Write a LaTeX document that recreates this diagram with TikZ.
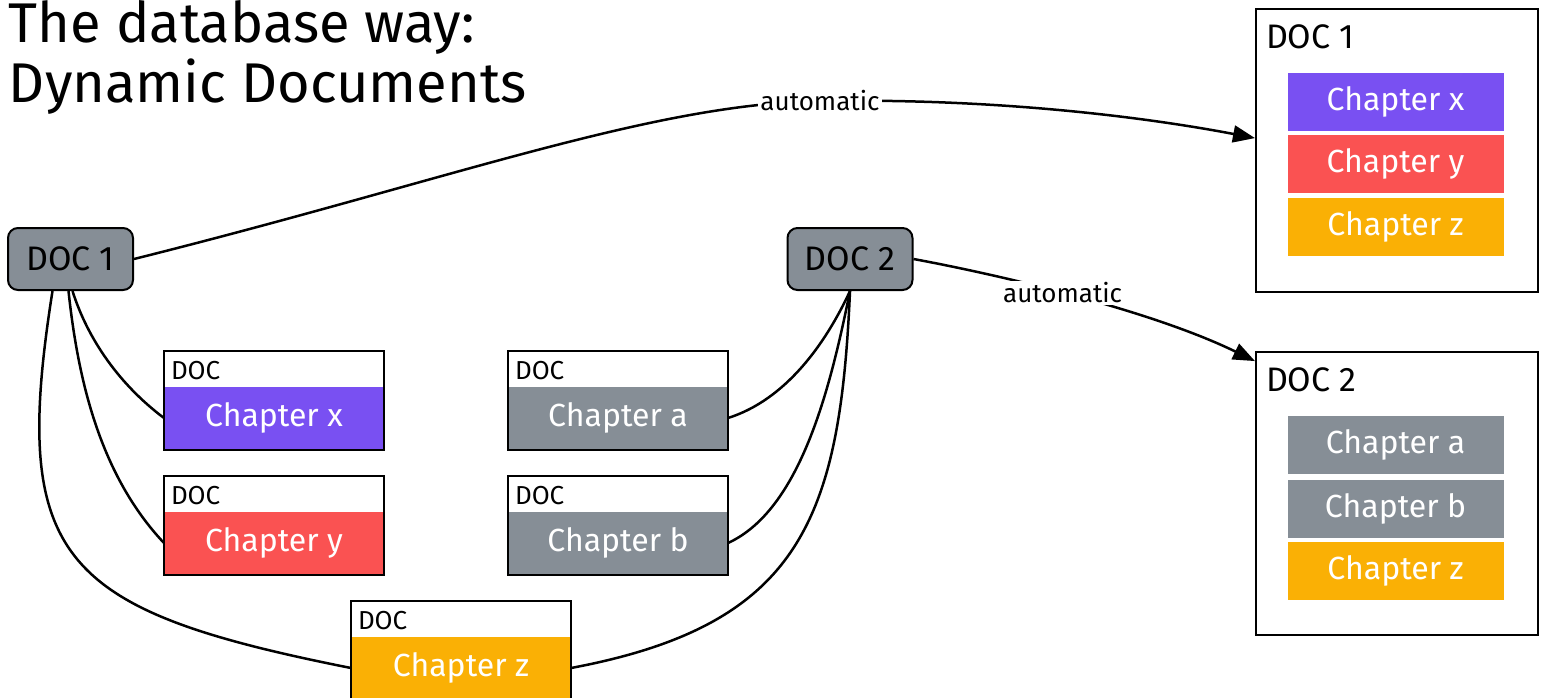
\documentclass[tikz,border=0pt]{standalone}
\usepackage{fontspec}
\setmainfont{Fira Sans}
\usepackage{tikz}
\usetikzlibrary{positioning,arrows.meta}
\definecolor{chpurple}{HTML}{7950F2}
\definecolor{chred}{HTML}{FA5252}
\definecolor{chorange}{HTML}{FAB005}
\definecolor{chgray}{HTML}{868E96}
\begin{document}
\begin{tikzpicture}[x=1pt,y=-1pt,line width=2pt,
  doc/.style={shape=rectangle,rounded corners=10pt,draw,fill=chgray,minimum width=125pt,minimum height=62pt,font=\fontsize{34}{40}\selectfont},
  hdr/.style={shape=rectangle,anchor=north west,minimum width=218pt,minimum height=33pt,text width=206pt,align=left,inner xsep=6pt,inner ysep=4pt,text height=22pt,text depth=0pt,font=\fontsize{26}{30}\selectfont},
  band/.style={shape=rectangle,minimum width=218pt,minimum height=62pt,text=white,font=\fontsize{32}{38}\selectfont},
  bigdoc/.style={shape=rectangle,draw,anchor=north west,minimum width=282pt,minimum height=283pt},
  bigtitle/.style={anchor=west,inner sep=0pt,font=\fontsize{34}{40}\selectfont},
  bar/.style={shape=rectangle,draw=white,line width=1pt,minimum width=217pt,minimum height=59pt,inner sep=0pt,text=white,font=\fontsize{32}{38}\selectfont},
  lbl/.style={fill=white,inner sep=2pt,font=\fontsize{26}{30}\selectfont},
  link/.style={line width=2.5pt},
  flow/.style={line width=2.5pt,-{Triangle[length=22pt,width=17pt]}}]
\useasboundingbox (0,0) rectangle (1544,697);
% title
\path (8,42) node (title1) [anchor=base west,inner sep=0pt,font=\fontsize{56}{68}\selectfont] {The database way:};
\path (8,102) node (title2) [anchor=base west,inner sep=0pt,font=\fontsize{56}{68}\selectfont] {Dynamic Documents};
% documents
\path (70.5,259) node (doc1) [doc] {DOC 1};
\path (850,259) node (doc2) [doc] {DOC 2};
% chapters
\path (164,351) node (hdx) [hdr] {DOC};
\path node (chx) [band,fill=chpurple,below=0pt of hdx] {Chapter x};
\path (164,476) node (hdy) [hdr] {DOC};
\path node (chy) [band,fill=chred,below=0pt of hdy] {Chapter y};
\path (508,351) node (hda) [hdr] {DOC};
\path node (cha) [band,fill=chgray,below=0pt of hda] {Chapter a};
\path (508,476) node (hdb) [hdr] {DOC};
\path node (chb) [band,fill=chgray,below=0pt of hdb] {Chapter b};
\path (351,601) node (hdz) [hdr] {DOC};
\path node (chz) [band,fill=chorange,below=0pt of hdz] {Chapter z};
\foreach \c in {x,y,a,b,z}
  \draw (hd\c.north west) rectangle (ch\c.south east);
% results
\path (1255,8) node (big1) [bigdoc] {};
\path (1265,37) node (bt1) [bigtitle] {DOC 1};
\path (1395.5,101.5) node (r1x) [bar,fill=chpurple] {Chapter x};
\path (1395.5,164) node (r1y) [bar,fill=chred] {Chapter y};
\path (1395.5,227) node (r1z) [bar,fill=chorange] {Chapter z};
\path (1255,351) node (big2) [bigdoc] {};
\path (1265,380) node (bt2) [bigtitle] {DOC 2};
\path (1395.5,445) node (r2a) [bar,fill=chgray] {Chapter a};
\path (1395.5,509) node (r2b) [bar,fill=chgray] {Chapter b};
\path (1395.5,571) node (r2z) [bar,fill=chorange] {Chapter z};

\draw [link] ([xshift=2pt]doc1.south) .. controls (88,340) and (120,385) .. (chx.west);
\draw [link] ([xshift=-2pt]doc1.south) .. controls (78,380) and (100,475) .. (chy.west);
\draw [link] ([xshift=-18pt]doc1.south) .. controls (10,560) and (60,610) .. (chz.west);
\draw [link] (doc2.south) .. controls (825,345) and (785,400) .. (cha.east);
\draw [link] (doc2.south) .. controls (830,390) and (800,510) .. (chb.east);
\draw [link] (doc2.south) .. controls (840,520) and (800,625) .. (chz.east);

\draw [flow] (doc1.east) .. controls (450,180) and (650,104) .. (820,101)
  node (auto1) [lbl] {automatic}
  .. controls (1000,98) and (1150,118) .. (big1.175);
\draw [flow] (doc2.east) .. controls (1000,275) and (1150,310) .. (big2.137)
  node (auto2) [lbl,pos=0.46] {automatic};
\end{tikzpicture}
\end{document}
